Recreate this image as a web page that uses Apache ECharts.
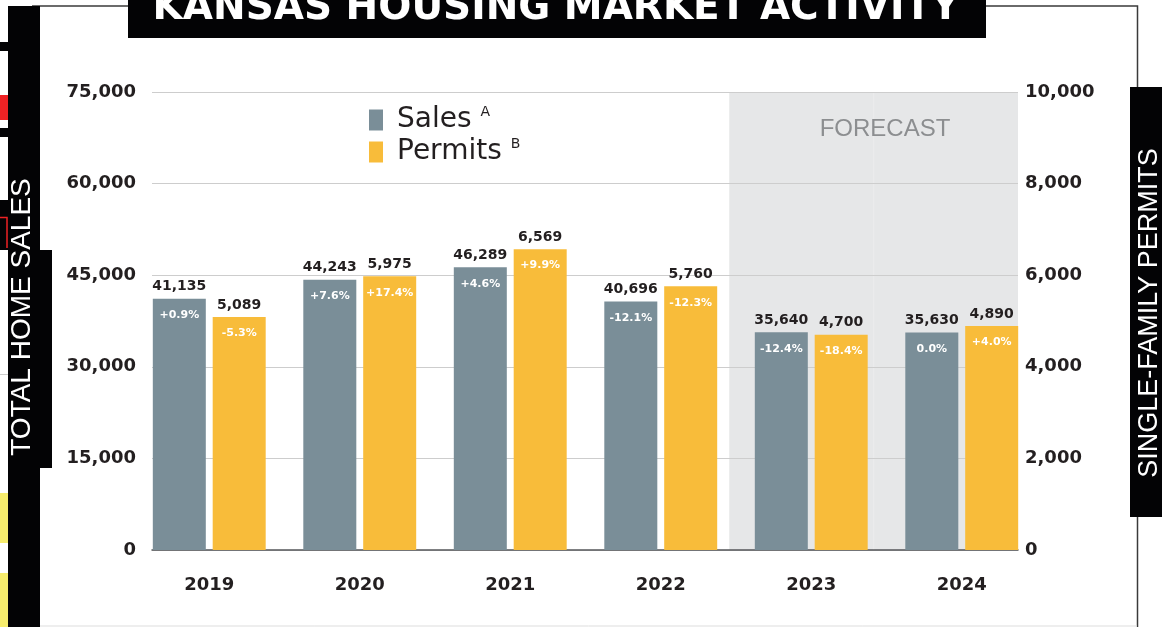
<!DOCTYPE html>
<html>
<head>
<meta charset="utf-8">
<title>Kansas Housing Market Activity</title>
<script src="https://cdn.jsdelivr.net/npm/echarts@6/dist/echarts.min.js"></script>
<style>html,body{margin:0;padding:0;background:#fff;}</style>
</head>
<body>
<div id="main" style="width:1172px;height:627px;"></div>
<script>
// data
var years = ['2019', '2020', '2021', '2022', '2023', '2024'];
var sales = [41135, 44243, 46289, 40696, 35640, 35630];
var permits = [5089, 5975, 6569, 5760, 4700, 4890];
var salesChange = ['+0.9%', '+7.6%', '+4.6%', '-12.1%', '-12.4%', '0.0%'];
var permitsChange = ['-5.3%', '+17.4%', '+9.9%', '-12.3%', '-18.4%', '+4.0%'];
var isForecast = [false, false, false, false, true, true];
var salesAxis = {min: 0, max: 75000, interval: 15000};
var permitsAxis = {min: 0, max: 10000, interval: 2000};
var legendSup = {Sales: 'A', Permits: 'B'};

var dark = '#231f20';
var grey = '#7a8e98';
var gold = '#f8bc3a';
var numFont = 'DejaVu Sans';

var chart = echarts.init(document.getElementById('main'));

function fmt(v) { return v.toLocaleString('en-US'); }

var topLabel = {
  show: true, position: 'top', distance: 5,
  fontFamily: numFont, fontWeight: 'bold', fontSize: 14, color: dark
};
var inLabel = {
  show: true, position: 'insideTop', distance: 11,
  fontFamily: numFont, fontWeight: 'bold', fontSize: 11, color: '#fff'
};

var option = {
  animation: false,
  grid: [
    // gridlines + axes
    {left: 152, right: 154, top: 92, bottom: 77},
    // bars
    {left: 134, right: 135, top: 92, bottom: 77}
  ],
  legend: {
    data: ['Sales', 'Permits'],
    orient: 'vertical',
    left: 369, top: 105, padding: 0,
    icon: 'rect', itemWidth: 14, itemHeight: 21, itemGap: 3,
    formatter: function (name) {
      return '{n|' + name + '}{s|' + legendSup[name] + '}';
    },
    textStyle: {
      rich: {
        n: {fontFamily: numFont, fontSize: 28, color: dark, lineHeight: 30, padding: [0, 0, 0, 9]},
        s: {fontFamily: numFont, fontSize: 14, color: dark, lineHeight: 30, verticalAlign: 'top', padding: [0, 0, 0, 9]}
      }
    }
  },
  xAxis: [
    {
      type: 'category', gridIndex: 0, data: years,
      axisLine: {show: true, lineStyle: {color: '#555759', width: 1.5}},
      axisTick: {show: false}, axisLabel: {show: false}
    },
    {
      type: 'category', gridIndex: 1, data: years,
      axisLine: {show: false}, axisTick: {show: false},
      axisLabel: {margin: 26, fontFamily: numFont, fontWeight: 'bold', fontSize: 18, color: dark}
    }
  ],
  yAxis: [
    {
      type: 'value', gridIndex: 0, position: 'left',
      min: salesAxis.min, max: salesAxis.max, interval: salesAxis.interval,
      axisLine: {show: false}, axisTick: {show: false},
      splitLine: {lineStyle: {color: '#cdcdcd', width: 1}},
      axisLabel: {margin: 16, fontFamily: numFont, fontWeight: 'bold', fontSize: 18, color: dark, formatter: fmt}
    },
    {
      type: 'value', gridIndex: 0, position: 'right',
      min: permitsAxis.min, max: permitsAxis.max, interval: permitsAxis.interval,
      axisLine: {show: false}, axisTick: {show: false}, splitLine: {show: false},
      axisLabel: {margin: 7, fontFamily: numFont, fontWeight: 'bold', fontSize: 18, color: dark, formatter: fmt}
    },
    {
      type: 'value', gridIndex: 1, min: salesAxis.min, max: salesAxis.max,
      show: false, splitLine: {show: false}
    },
    {
      type: 'value', gridIndex: 1, min: permitsAxis.min, max: permitsAxis.max,
      show: false, splitLine: {show: false}
    }
  ],
  series: [
    {
      // forecast shading
      name: 'Forecast', type: 'bar', xAxisIndex: 0, yAxisIndex: 0, z: -1,
      barCategoryGap: '0%', silent: true,
      itemStyle: {color: '#e6e7e8', borderColor: '#e6e7e8', borderWidth: 1},
      data: isForecast.map(function (f) { return f ? salesAxis.max : null; })
    },
    {
      name: 'Sales', type: 'bar', xAxisIndex: 1, yAxisIndex: 2, stack: 's',
      barWidth: 53, barGap: '13%', itemStyle: {color: grey},
      label: Object.assign({}, inLabel, {formatter: function (p) { return salesChange[p.dataIndex]; }}),
      data: sales
    },
    {
      name: 'SalesTop', type: 'bar', xAxisIndex: 1, yAxisIndex: 2, stack: 's',
      barWidth: 53, barGap: '13%', itemStyle: {color: grey},
      label: Object.assign({}, topLabel, {formatter: function (p) { return fmt(sales[p.dataIndex]); }}),
      data: sales.map(function () { return 0; })
    },
    {
      name: 'Permits', type: 'bar', xAxisIndex: 1, yAxisIndex: 3, stack: 'p',
      barWidth: 53, barGap: '13%', itemStyle: {color: gold},
      label: Object.assign({}, inLabel, {formatter: function (p) { return permitsChange[p.dataIndex]; }}),
      data: permits
    },
    {
      name: 'PermitsTop', type: 'bar', xAxisIndex: 1, yAxisIndex: 3, stack: 'p',
      barWidth: 53, barGap: '13%', itemStyle: {color: gold},
      label: Object.assign({}, topLabel, {formatter: function (p) { return fmt(permits[p.dataIndex]); }}),
      data: permits.map(function () { return 0; })
    }
  ],
  graphic: [
    // frame lines
    {type: 'line', shape: {x1: 32, y1: 6, x2: 128, y2: 6}, style: {stroke: '#3a3a3a', lineWidth: 1.5}},
    {type: 'polyline', shape: {points: [[986, 6], [1137.5, 6], [1137.5, 88]]}, style: {stroke: '#3a3a3a', lineWidth: 1.5, fill: null}},
    {type: 'line', shape: {x1: 1137.5, y1: 516, x2: 1137.5, y2: 627}, style: {stroke: '#3a3a3a', lineWidth: 1.5}},
    {type: 'line', shape: {x1: 40, y1: 626, x2: 1137, y2: 626}, style: {stroke: '#dddddd', lineWidth: 1}},
    // title
    {type: 'rect', shape: {x: 128, y: 0, width: 858, height: 38}, style: {fill: '#030305'}},
    {type: 'text', x: 556, y: 9, style: {
      text: 'KANSAS HOUSING MARKET ACTIVITY', fill: '#fff', align: 'center', verticalAlign: 'middle',
      font: 'bold 39px "DejaVu Sans"'
    }},
    // left edge bits
    {type: 'rect', shape: {x: 0, y: 42, width: 8, height: 9}, style: {fill: '#030305'}},
    {type: 'rect', shape: {x: 0, y: 95, width: 8, height: 25}, style: {fill: '#ee2224'}},
    {type: 'rect', shape: {x: 0, y: 128, width: 8, height: 9}, style: {fill: '#030305'}},
    {type: 'rect', shape: {x: 0, y: 200, width: 8, height: 50}, style: {fill: '#030305'}},
    {type: 'polyline', shape: {points: [[0, 217.5], [7, 217.5], [7, 248]]}, style: {stroke: '#ee2224', lineWidth: 1.5, fill: null}},
    {type: 'line', shape: {x1: 0, y1: 374.5, x2: 8, y2: 374.5}, style: {stroke: '#cccccc', lineWidth: 1}},
    {type: 'rect', shape: {x: 0, y: 493, width: 8, height: 50}, style: {fill: '#f6ec6d'}},
    {type: 'rect', shape: {x: 0, y: 573, width: 8, height: 54}, style: {fill: '#f6ec6d'}},
    // left axis title box
    {type: 'rect', shape: {x: 8, y: 6, width: 32, height: 621}, style: {fill: '#030305'}},
    {type: 'rect', shape: {x: 8, y: 250, width: 44, height: 218}, style: {fill: '#030305'}},
    {type: 'text', x: 22, y: 317, rotation: Math.PI / 2, style: {
      text: 'TOTAL HOME SALES', fill: '#fff', align: 'center', verticalAlign: 'middle',
      font: '28px "Liberation Sans"'
    }},
    // right axis title box
    {type: 'rect', shape: {x: 1130, y: 87, width: 32, height: 430}, style: {fill: '#030305'}},
    {type: 'text', x: 1150, y: 313, rotation: Math.PI / 2, style: {
      text: 'SINGLE-FAMILY PERMITS', fill: '#fff', align: 'center', verticalAlign: 'middle',
      font: '27px "Liberation Sans"'
    }},
    // forecast label
    {type: 'text', x: 885, y: 129, style: {
      text: 'FORECAST', fill: '#8c8e90', align: 'center', verticalAlign: 'middle',
      font: '24px "Liberation Sans"'
    }}
  ]
};

chart.setOption(option);
</script>
</body>
</html>
